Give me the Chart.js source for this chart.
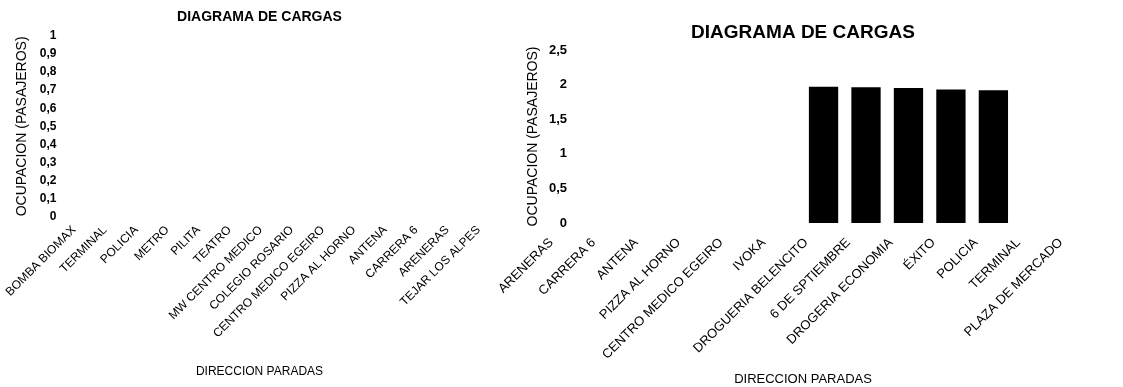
<!DOCTYPE html>
<html lang="es">
<head>
    <meta charset="UTF-8">
    <title>Diagrama de cargas</title>
    <script src="https://cdn.jsdelivr.net/npm/chart.js"></script>
    <style>
        body { margin: 0; background: #fff; overflow: hidden; }
        .wrap { position: relative; width: 1123px; height: 387px; background: #fff; overflow: hidden; }
        #leftChart { position: absolute; left: 0; top: 0; }
        #rightChart { position: absolute; left: 470px; top: 0; }
    </style>
</head>
<body>
    <div class="wrap">
        <canvas id="leftChart" width="505" height="387"></canvas>
        <canvas id="rightChart" width="675" height="387"></canvas>
    </div>

    <script>
        // Grafico izquierdo
        const paradasIzq = ['BOMBA BIOMAX', 'TERMINAL', 'POLICIA', 'METRO', 'PILITA', 'TEATRO',
            'MW CENTRO MEDICO', 'COLEGIO ROSARIO', 'CENTRO MEDICO EGEIRO', 'PIZZA AL HORNO',
            'ANTENA', 'CARRERA 6', 'ARENERAS', 'TEJAR LOS ALPES'];
        const ocupacionIzq = [0, 0, 0, 0, 0, 0, 0, 0, 0, 0, 0, 0, 0, 0];
        const ticksIzq = ['0', '0,1', '0,2', '0,3', '0,4', '0,5', '0,6', '0,7', '0,8', '0,9', '1'];

        // Grafico derecho
        const paradasDer = ['ARENERAS', 'CARRERA 6', 'ANTENA', 'PIZZA AL HORNO', 'CENTRO MEDICO EGEIRO',
            'IVOKA', 'DROGUERIA BELENCITO', '6 DE SPTIEMBRE', 'DROGERIA ECONOMIA', 'ÉXITO',
            'POLICIA', 'TERMINAL', 'PLAZA DE MERCADO'];
        const ocupacionDer = [0, 0, 0, 0, 0, 1.97, 1.96, 1.95, 1.93, 1.92, 0, 0, 0];
        const ticksDer = ['0', '0,5', '1', '1,5', '2', '2,5'];

        Chart.defaults.font.family = "'Liberation Sans', Arial, sans-serif";
        Chart.defaults.color = '#000';

        function crearGrafico(id, labels, data, tickLabels, cfg) {
            new Chart(document.getElementById(id), {
                type: 'bar',
                data: {
                    labels: labels,
                    datasets: [{
                        data: data,
                        backgroundColor: '#000',
                        borderWidth: 0,
                        barPercentage: 0.69,
                        categoryPercentage: 1
                    }]
                },
                options: {
                    responsive: false,
                    animation: false,
                    layout: { padding: cfg.padding },
                    plugins: {
                        legend: { display: false },
                        tooltip: { enabled: false },
                        title: {
                            display: true,
                            text: 'DIAGRAMA DE CARGAS',
                            font: { size: cfg.titleSize, weight: 'bold' },
                            padding: cfg.titlePadding
                        },
                        // titulo del eje x, centrado sobre todo el grafico
                        subtitle: {
                            display: true,
                            position: 'bottom',
                            text: 'DIRECCION PARADAS',
                            font: { size: cfg.xTitleSize, weight: 'normal' },
                            padding: { top: 0, bottom: cfg.xTitleBottom }
                        }
                    },
                    scales: {
                        x: {
                            grid: { display: false, drawTicks: false },
                            border: { display: false },
                            ticks: {
                                autoSkip: false,
                                maxRotation: 45,
                                minRotation: 45,
                                padding: cfg.xTickPadding,
                                labelOffset: cfg.labelOffset,
                                font: { size: cfg.xFont }
                            },
                            afterFit: s => { s.height = cfg.xHeight; }
                        },
                        y: {
                            min: 0,
                            max: cfg.yMax,
                            grid: { display: false, drawTicks: false },
                            border: { display: false },
                            ticks: {
                                stepSize: cfg.step,
                                padding: cfg.yTickPadding,
                                font: { size: cfg.yFont, weight: 'bold' },
                                callback: (v, i) => tickLabels[i]
                            },
                            title: {
                                display: true,
                                text: 'OCUPACION (PASAJEROS)',
                                font: { size: 14 },
                                padding: { top: cfg.yTitleTop, bottom: 0 }
                            },
                            afterFit: s => { s.width = cfg.yWidth; }
                        }
                    }
                }
            });
        }

        crearGrafico('leftChart', paradasIzq, ocupacionIzq, ticksIzq, {
            padding: { left: 25, right: 11, top: 0, bottom: 0 },
            titleSize: 14,
            titlePadding: { top: 9, bottom: 10 },
            xTitleSize: 12,
            xTitleBottom: 8,
            xTickPadding: 6,
            labelOffset: 0,
            xFont: 12,
            xHeight: 147.6,
            yMax: 1,
            step: 0.1,
            yTickPadding: 2,
            yFont: 12,
            yTitleTop: -14.4,
            yWidth: 30
        });

        crearGrafico('rightChart', paradasDer, ocupacionDer, ticksDer, {
            padding: { left: -6, right: 3, top: 0, bottom: 0 },
            titleSize: 19,
            titlePadding: { top: 21.6, bottom: 5.6 },
            xTitleSize: 13,
            xTitleBottom: 0,
            xTickPadding: 12,
            labelOffset: -60,
            xFont: 13,
            xHeight: 148.4,
            yMax: 2.5,
            step: 0.5,
            yTickPadding: 23,
            yFont: 13,
            yTitleTop: 60.6,
            yWidth: 126
        });
    </script>
</body>
</html>
